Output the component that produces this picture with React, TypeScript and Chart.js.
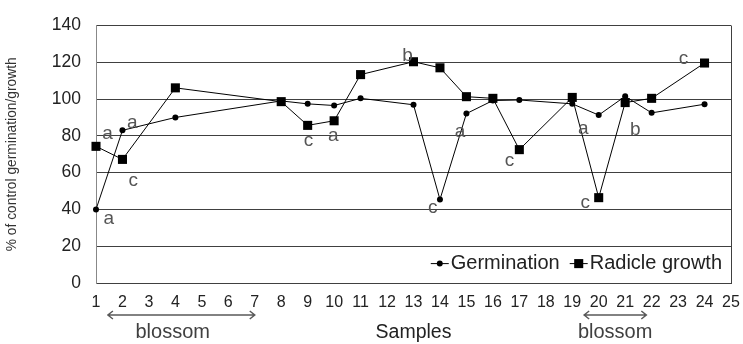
import React, { useEffect, useRef } from 'react';
import { Chart, registerables } from 'chart.js';

Chart.register(...registerables);

const FONT = "'Liberation Sans', Arial, Helvetica, sans-serif";

// Sample numbers on the x axis
const samples = [1, 2, 4, 8, 9, 10, 11, 13, 14, 15, 16, 17, 19, 20, 21, 22, 24];
// % of control
const germination = [40, 83, 90, 99, 97.4, 96.5, 100.4, 96.9, 45.4, 92.1, 99.2, 99.5, 97.4, 91.3, 101.5, 92.5, 97.2];
const radicleGrowth = [74.3, 67.2, 106.1, 98.6, 85.7, 88.2, 113.3, 120.3, 117, 101.3, 100.4, 72.5, 100.9, 46.4, 98.1, 100.4, 119.6];

const seriesNames = ['Germination', 'Radicle growth'];

const xMin = 1;
const xMax = 25;
const yMin = 0;
const yMax = 140;
const yStep = 20;

// significance letters (sample position, value position, letter)
const annotSamples = [1.44, 2.37, 2.41, 1.48, 9.03, 9.97, 12.77, 13.73, 14.76, 16.63, 19.42, 19.49, 21.38, 23.2];
const annotValues = [81.2, 86.9, 55.2, 34.9, 77.3, 79.9, 123.6, 40.7, 82.1, 66.3, 83.8, 43.3, 83.1, 121.8];
const annotLetters = ['a', 'a', 'c', 'a', 'c', 'a', 'b', 'c', 'a', 'c', 'a', 'c', 'b', 'c'];

// blossom periods
const blossomFrom = [1.45, 19.45];
const blossomTo = [7.0, 21.8];
const blossomLabelAt = [3.9, 20.62];
const blossomText = 'blossom';

const extrasPlugin = {
  id: 'extras',
  afterDatasetsDraw(chart: any) {
    const { ctx, chartArea } = chart;
    const x = chart.scales.x;
    const y = chart.scales.y;
    ctx.save();

    // letters
    ctx.font = `19px ${FONT}`;
    ctx.fillStyle = '#555555';
    ctx.textAlign = 'center';
    ctx.textBaseline = 'alphabetic';
    annotLetters.forEach((l, i) => {
      ctx.fillText(l, x.getPixelForValue(annotSamples[i]), y.getPixelForValue(annotValues[i]) + 5);
    });

    // legend
    const ds = chart.data.datasets;
    ctx.font = `20px ${FONT}`;
    ctx.fillStyle = '#222222';
    ctx.textAlign = 'left';
    ctx.textBaseline = 'middle';
    const ly = y.getPixelForValue(10) - 1;
    const w0 = ctx.measureText(seriesNames[0]).width;
    const w1 = ctx.measureText(seriesNames[1]).width;
    const radTextStart = chartArea.right - 9 - w1;
    const radMarker = radTextStart - 11;
    const germTextStart = radMarker - 9 - 10 - w0;
    const germMarker = germTextStart - 11;
    const drawItem = (mx: number, tx: number, d: any, label: string) => {
      ctx.strokeStyle = '#000';
      ctx.lineWidth = 1;
      ctx.beginPath();
      ctx.moveTo(mx - 9, ly);
      ctx.lineTo(mx + 9, ly);
      ctx.stroke();
      ctx.fillStyle = '#000';
      if (d.pointStyle === 'rect') {
        const s = Math.SQRT1_2 * d.pointRadius;
        ctx.fillRect(mx - s, ly - s, 2 * s, 2 * s);
      } else {
        ctx.beginPath();
        ctx.arc(mx, ly, d.pointRadius, 0, Math.PI * 2);
        ctx.fill();
      }
      ctx.fillStyle = '#222222';
      ctx.fillText(label, tx, ly);
    };
    drawItem(germMarker, germTextStart, ds[0], seriesNames[0]);
    drawItem(radMarker, radTextStart, ds[1], seriesNames[1]);

    // blossom arrows
    const ay = chartArea.bottom + 32;
    ctx.strokeStyle = '#595959';
    ctx.lineWidth = 1.5;
    ctx.font = `20px ${FONT}`;
    blossomFrom.forEach((f, i) => {
      const x1 = x.getPixelForValue(f);
      const x2 = x.getPixelForValue(blossomTo[i]);
      ctx.beginPath();
      ctx.moveTo(x1, ay);
      ctx.lineTo(x2, ay);
      ctx.moveTo(x1 + 5, ay - 4);
      ctx.lineTo(x1, ay);
      ctx.lineTo(x1 + 5, ay + 4);
      ctx.moveTo(x2 - 5, ay - 4);
      ctx.lineTo(x2, ay);
      ctx.lineTo(x2 - 5, ay + 4);
      ctx.stroke();
      ctx.fillStyle = '#404040';
      ctx.textAlign = 'center';
      ctx.textBaseline = 'middle';
      ctx.fillText(blossomText, x.getPixelForValue(blossomLabelAt[i]), chartArea.bottom + 49);
    });

    ctx.restore();
  },
};

export default function App() {
  const ref = useRef<HTMLCanvasElement | null>(null);

  useEffect(() => {
    if (!ref.current) return;
    Chart.defaults.font.family = FONT;
    const chart = new Chart(ref.current, {
      type: 'line',
      data: {
        datasets: [
          {
            label: seriesNames[0],
            data: samples.map((s, i) => ({ x: s, y: germination[i] })),
            borderColor: '#000',
            backgroundColor: '#000',
            borderWidth: 1,
            pointStyle: 'circle',
            pointRadius: 3,
            pointBorderWidth: 0,
            pointBackgroundColor: '#000',
            tension: 0,
            clip: false,
            order: 2,
          },
          {
            label: seriesNames[1],
            data: samples.map((s, i) => ({ x: s, y: radicleGrowth[i] })),
            borderColor: '#000',
            backgroundColor: '#000',
            borderWidth: 1,
            pointStyle: 'rect',
            pointRadius: 6.4,
            pointBorderWidth: 0,
            pointBackgroundColor: '#000',
            tension: 0,
            clip: false,
            order: 1,
          },
        ],
      },
      options: {
        responsive: false,
        animation: false,
        events: [],
        layout: { padding: { left: 0, right: 12, top: 15, bottom: 0 } },
        plugins: {
          legend: { display: false },
          tooltip: { enabled: false },
        },
        scales: {
          x: {
            type: 'linear',
            min: xMin,
            max: xMax,
            afterFit: (s: any) => {
              s.height = 61;
              s.paddingLeft = 0;
              s.paddingRight = 0;
            },
            ticks: {
              stepSize: 1,
              autoSkip: false,
              maxRotation: 0,
              padding: 10,
              color: '#222222',
              font: { size: 16, family: FONT },
            },
            grid: {
              drawTicks: false,
              color: (c: any) => (c.tick && c.tick.value === xMax ? '#404040' : 'rgba(0,0,0,0)'),
              lineWidth: 1,
            },
            border: { display: true, color: '#404040', width: 1 },
            title: {
              display: true,
              text: 'Samples',
              color: '#222222',
              font: { size: 19.5, family: FONT },
              padding: { top: 0, bottom: 0 },
            },
          },
          y: {
            type: 'linear',
            min: yMin,
            max: yMax,
            afterFit: (s: any) => { s.width = 96; },
            ticks: {
              stepSize: yStep,
              padding: 15,
              color: '#222222',
              font: { size: 17.5, family: FONT },
            },
            grid: {
              drawTicks: false,
              color: '#404040',
              lineWidth: 1,
            },
            border: { display: true, color: '#888888', width: 1 },
            title: {
              display: true,
              text: '% of control germination/growth',
              color: '#333333',
              font: { size: 13.8, family: FONT },
              padding: { top: 4, bottom: 0 },
            },
          },
        },
      },
      plugins: [extrasPlugin],
    } as any);
    return () => chart.destroy();
  }, []);

  return (
    <div style={{ position: 'fixed', left: 0, top: 0, width: 743, height: 344, background: '#fff' }}>
      <canvas ref={ref} width={743} height={344} style={{ display: 'block' }} />
    </div>
  );
}
